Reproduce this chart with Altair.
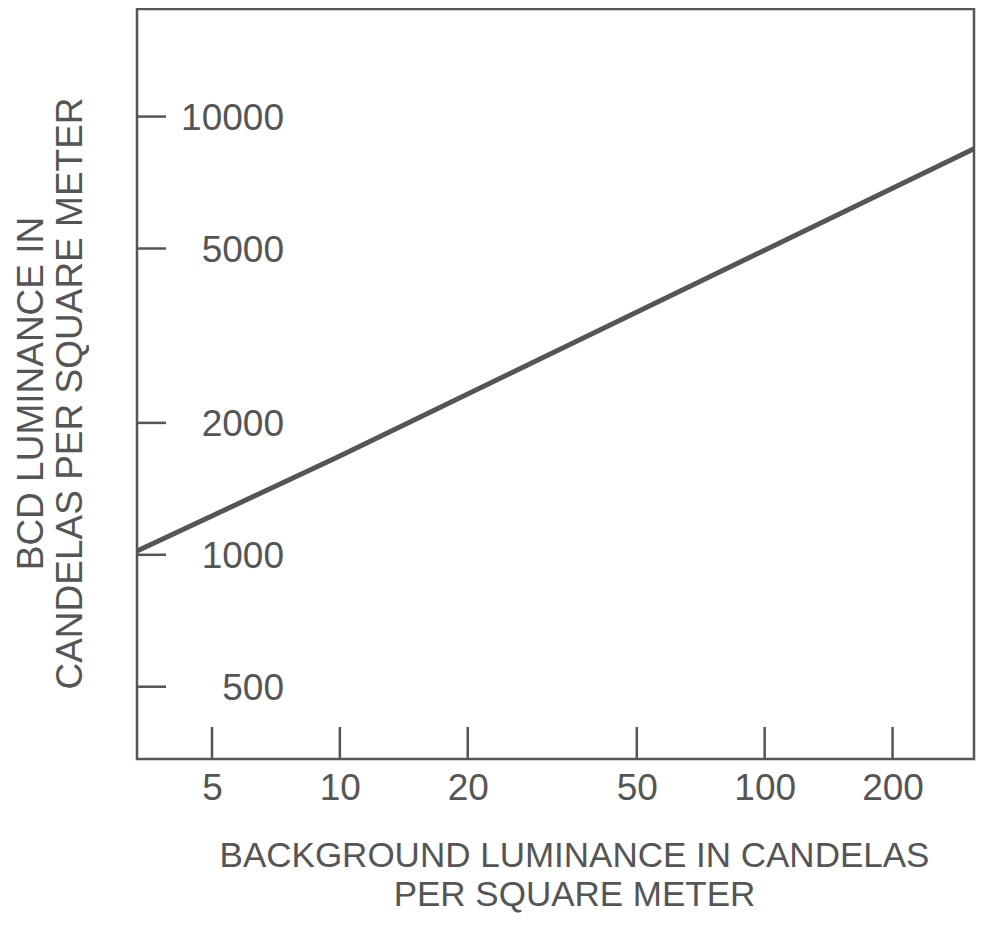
import altair as alt
import pandas as pd

# ---- data ----
bg_lum = [3.33, 10, 311]          # background luminance (cd/m^2)
bcd_lum = [1020, 1680, 8450]      # BCD luminance (cd/m^2)
x_ticks = [5, 10, 20, 50, 100, 200]
y_ticks = [500, 1000, 2000, 5000, 10000]
y_labels = ["500", "1000", "2000", "5000", "10000"]
x_title = ["BACKGROUND LUMINANCE IN CANDELAS", "PER SQUARE METER"]
y_title = ["BCD LUMINANCE  IN", "CANDELAS PER SQUARE METER"]

W, H = 837, 750
FONT = "Liberation Sans"
FS = 37
TFS = 35
TXT = "#555555"
INK = "#555555"

xs = alt.Scale(type="log", domain=[3.33, 311], nice=False)
ys = alt.Scale(type="log", domain=[342, 17600], nice=False)

line_df = pd.DataFrame({"bg": bg_lum, "bcd": bcd_lum})
xt_df = pd.DataFrame({"bg": x_ticks})
yt_df = pd.DataFrame({"bcd": y_ticks, "label": y_labels})

x_axis = alt.Axis(
    values=x_ticks, format="d", domain=False, ticks=False, grid=False,
    labelFont=FONT, labelFontSize=FS, labelColor=TXT, labelBaseline="alphabetic",
    labelPadding=40,
    title=x_title, titleFont=FONT, titleFontSize=TFS, titleFontWeight="normal",
    titleColor=TXT, titleX=437, titleY=107, titleBaseline="alphabetic",
    titleLineHeight=39, titleAlign="center",
)
y_axis = alt.Axis(
    domain=False, ticks=False, labels=False, grid=False,
    title=y_title, titleFont=FONT, titleFontSize=FS, titleFontWeight="normal",
    titleColor=TXT, titleX=-95, titleY=384, titleAngle=270, titleBaseline="alphabetic",
    titleLineHeight=39, titleAlign="center",
)

base_x = alt.X("bg:Q", scale=xs, axis=x_axis)
base_y = alt.Y("bcd:Q", scale=ys, axis=y_axis)

line = alt.Chart(line_df).mark_line(color=INK, strokeWidth=5).encode(
    x=base_x,
    y=base_y,
)

xtick_rules = alt.Chart(xt_df).mark_rule(color=INK, strokeWidth=2.5).encode(
    x=base_x,
    y=alt.value(H),
    y2=alt.value(H - 32),
)

ytick_rules = alt.Chart(yt_df).mark_rule(color=INK, strokeWidth=2.5).encode(
    y=base_y,
    x=alt.value(0),
    x2=alt.value(29),
)

ytick_text = alt.Chart(yt_df).mark_text(
    align="right", baseline="middle", font=FONT, fontSize=FS, color=TXT, dy=2
).encode(
    y=base_y,
    x=alt.value(147),
    text="label:N",
)

chart = alt.layer(line, xtick_rules, ytick_rules, ytick_text).properties(
    width=W,
    height=H,
    autosize=alt.AutoSizeParams(type="none"),
    padding={"left": 129, "top": 1, "right": 2, "bottom": 154},
    background="white",
).configure_view(stroke=INK, strokeWidth=2.5)

chart.save("out.html", embed_options={"renderer": "svg", "actions": False})
